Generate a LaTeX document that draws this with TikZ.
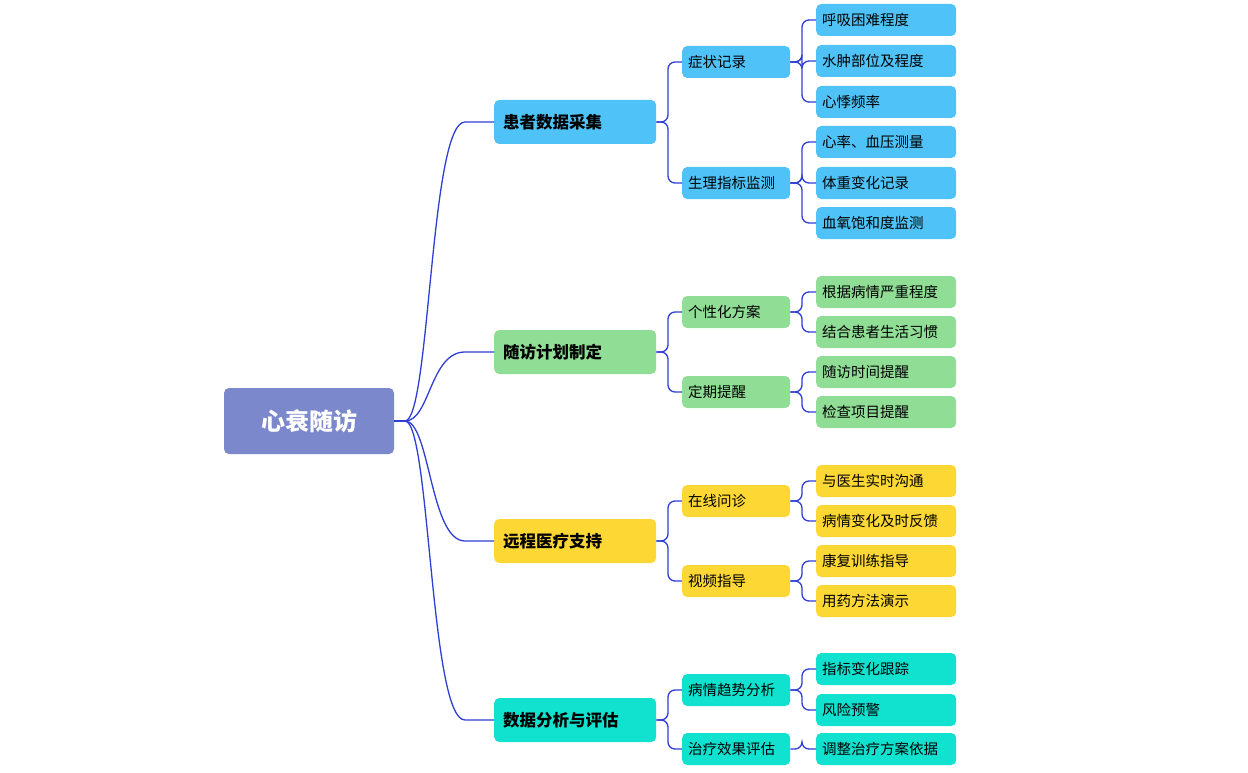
\documentclass[tikz,border=0pt]{standalone}
\usepackage{fontspec}
\setmainfont{Noto Sans CJK SC}
\begin{document}
\begin{tikzpicture}[x=1pt,y=-1pt,
 box/.style={rounded corners=5pt,draw=none,inner xsep=6pt,inner ysep=0pt,align=left},
 lthree/.style={box,text width=128pt,minimum height=32pt,font=\fontsize{14.5}{16}\selectfont,anchor=west},
 ltwo/.style={box,text width=96pt,minimum height=32pt,font=\fontsize{14.5}{16}\selectfont,anchor=west},
 lone/.style={box,text width=144pt,inner xsep=9pt,minimum height=44pt,font=\fontsize{16.5}{18}\selectfont\bfseries,anchor=west},
 conn/.style={draw=lineblue,line width=1.3pt,rounded corners=7pt}]
\definecolor{lineblue}{HTML}{2E3FD3}
\definecolor{cRoot}{HTML}{7B88CC}
\definecolor{cB}{HTML}{4FC3F7}
\definecolor{cG}{HTML}{90DE96}
\definecolor{cY}{HTML}{FDD835}
\definecolor{cC}{HTML}{11E2CF}
\useasboundingbox (0,0) rectangle (1248,773);
\node[box,fill=cRoot,minimum width=170pt,minimum height=66pt,text=white,font=\fontsize{24}{26}\selectfont\bfseries,align=center] (root) at (309,421) {心衰随访};
\coordinate (r0) at (405,421);
\draw[conn] (root.east) -- (r0);
% level1
\node[lone,fill=cB] (a) at (494,122) {患者数据采集};
\node[lone,fill=cG] (b) at (494,352) {随访计划制定};
\node[lone,fill=cY] (c) at (494,541) {远程医疗支持};
\node[lone,fill=cC] (d) at (494,720) {数据分析与评估};
\foreach \n in {a,b,c,d}{
 \draw[draw=lineblue,line width=1.3pt] (r0) .. controls (430,421) and (430,0|-\n.west) .. (465,0|-\n.west) -- (\n.west);}
% level2
\node[ltwo,fill=cB] (a1) at (682,62) {症状记录};
\node[ltwo,fill=cB] (a2) at (682,183) {生理指标监测};
\node[ltwo,fill=cG] (b1) at (682,312) {个性化方案};
\node[ltwo,fill=cG] (b2) at (682,392) {定期提醒};
\node[ltwo,fill=cY] (c1) at (682,501) {在线问诊};
\node[ltwo,fill=cY] (c2) at (682,581) {视频指导};
\node[ltwo,fill=cC] (d1) at (682,690) {病情趋势分析};
\node[ltwo,fill=cC] (d2) at (682,749) {治疗效果评估};
\foreach \p/\k in {a/a1,a/a2,b/b1,b/b2,c/c1,c/c2,d/d1,d/d2}{
 \draw[conn] (\p.east) -- (668,0|-\p.east) |- (\k.west);}
% level3
\foreach \k/\y/\c/\t in {a1/20/cB/呼吸困难程度,a1/61/cB/水肿部位及程度,a1/102/cB/心悸频率,
 a2/142/cB/心率、血压测量,a2/183/cB/体重变化记录,a2/223/cB/血氧饱和度监测,
 b1/292/cG/根据病情严重程度,b1/332/cG/结合患者生活习惯,b2/372/cG/随访时间提醒,b2/412/cG/检查项目提醒,
 c1/481/cY/与医生实时沟通,c1/521/cY/病情变化及时反馈,c2/561/cY/康复训练指导,c2/601/cY/用药方法演示,
 d1/669/cC/指标变化跟踪,d1/710/cC/风险预警,d2/749/cC/调整治疗方案依据}{
 \node[lthree,fill=\c] (n\y) at (816,\y) {\t};
 \draw[conn] (\k.east) -- (802,0|-\k.east) |- (n\y.west);}
\end{tikzpicture}
\end{document}
